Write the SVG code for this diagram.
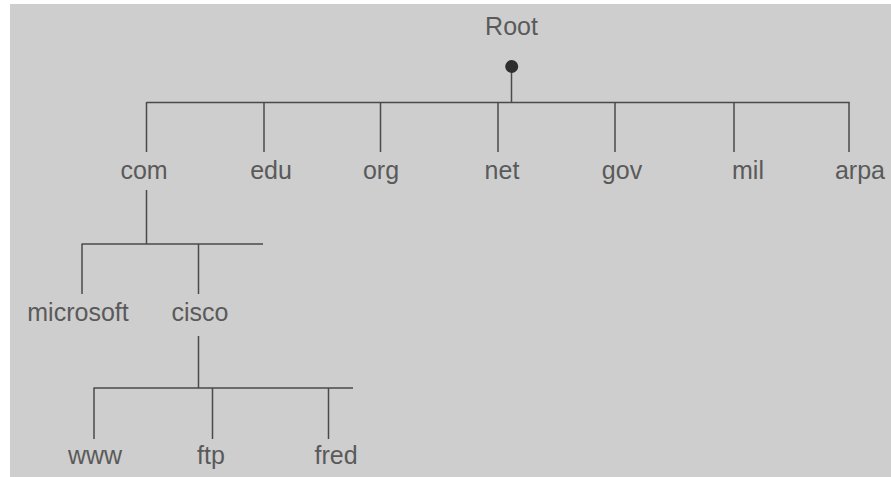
<svg xmlns="http://www.w3.org/2000/svg" width="891" height="477" viewBox="0 0 891 477">
<style>
.l{stroke:#4a4a4a;stroke-width:1.5;fill:none}
text{font-family:"Liberation Sans",Arial,sans-serif;font-size:25px;fill:#5a5a5a;text-anchor:middle}
</style>
<rect x="0" y="0" width="891" height="477" fill="#ffffff"/>
<rect x="10" y="4" width="881" height="473" fill="#cecece"/>
<g id="connectors">
<line class="l" x1="511.5" y1="67" x2="511.5" y2="102.5"/>
<line class="l" x1="146.5" y1="102.5" x2="849.5" y2="102.5"/>
<line class="l" x1="146.5" y1="102" x2="146.5" y2="152"/>
<line class="l" x1="264" y1="102" x2="264" y2="152"/>
<line class="l" x1="380.5" y1="102" x2="380.5" y2="152"/>
<line class="l" x1="498" y1="102" x2="498" y2="152"/>
<line class="l" x1="615" y1="102" x2="615" y2="152"/>
<line class="l" x1="734" y1="102" x2="734" y2="152"/>
<line class="l" x1="849" y1="102" x2="849" y2="152"/>
<line class="l" x1="146.5" y1="190" x2="146.5" y2="244"/>
<line class="l" x1="81.5" y1="244" x2="263" y2="244"/>
<line class="l" x1="82" y1="244" x2="82" y2="294"/>
<line class="l" x1="198.5" y1="244" x2="198.5" y2="294"/>
<line class="l" x1="198.5" y1="336" x2="198.5" y2="388"/>
<line class="l" x1="93.5" y1="388" x2="353" y2="388"/>
<line class="l" x1="94" y1="388" x2="94" y2="439"/>
<line class="l" x1="212.5" y1="388" x2="212.5" y2="439"/>
<line class="l" x1="328.5" y1="388" x2="328.5" y2="439"/>
</g>
<g id="root"><circle cx="511.7" cy="66.5" r="6.5" fill="#2e2e2e"/><text x="511.5" y="35">Root</text></g>
<g id="com"><text x="144" y="179">com</text></g>
<g id="edu"><text x="271" y="179">edu</text></g>
<g id="org"><text x="381" y="179">org</text></g>
<g id="net"><text x="502" y="179">net</text></g>
<g id="gov"><text x="622" y="179">gov</text></g>
<g id="mil"><text x="748" y="179">mil</text></g>
<g id="arpa"><text x="860" y="179">arpa</text></g>
<g id="microsoft"><text x="78" y="321">microsoft</text></g>
<g id="cisco"><text x="200" y="321">cisco</text></g>
<g id="www"><text x="95" y="464">www</text></g>
<g id="ftp"><text x="211" y="464">ftp</text></g>
<g id="fred"><text x="336" y="464">fred</text></g>
</svg>
